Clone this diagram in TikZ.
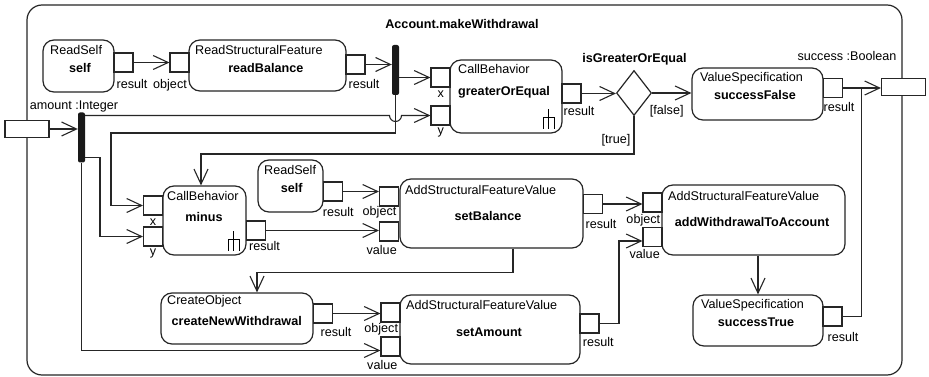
\documentclass[tikz,border=0pt]{standalone}
\usepackage{fontspec}
\setmainfont{Liberation Sans}
\usepackage{tikz}
\usetikzlibrary{shapes.geometric, arrows.meta}
\newcommand{\diagfont}{\fontsize{12.6pt}{14pt}\selectfont}
\tikzstyle{action}   = [rectangle, rounded corners=11pt, draw=black!85,
                         line width=1.2pt, fill=white, inner sep=0pt]
\tikzstyle{pinbox}   = [rectangle, draw=black!85, line width=1.1pt,
                         fill=white, minimum size=19pt, inner sep=0pt]
\tikzstyle{parambox} = [rectangle, draw=black!85, line width=1.1pt, fill=white,
                         minimum width=44pt, minimum height=17pt, inner sep=0pt]
\tikzstyle{forkbar}  = [rectangle, rounded corners=2pt, fill=black!90,
                         minimum width=7pt, minimum height=50pt, inner sep=0pt]
\tikzstyle{decision} = [diamond, draw=black!85, line width=1.2pt, fill=white,
                         minimum width=35pt, minimum height=45pt, inner sep=0pt]
\tikzstyle{kind}     = [anchor=base west, inner sep=0pt]
\tikzstyle{opname}   = [anchor=base, inner sep=0pt, font=\diagfont\bfseries]
\tikzstyle{pinlabel} = [anchor=base, inner sep=0pt]
\tikzstyle{arrow}    = [-{Straight Barb[length=15pt, width=14pt]},
                         line width=1.1pt, draw=black!85]
\tikzstyle{wire}     = [line width=1.1pt, draw=black!85]
\tikzset{rake/.pic={
    \draw[line width=1pt] (0,0) -- (0,-20) (-5.5,0) -- (-5.5,-11) -- (5.5,-11) -- (5.5,0);
}}

\begin{document}
\begin{tikzpicture}[x=1pt, y=-1pt, font=\diagfont]
  \useasboundingbox (0,0) rectangle (929,377);

  % activity frame
  \node[action, rounded corners=15pt, minimum width=875pt, minimum height=370pt] (frame) at (464.5,190) {};
  \node[opname] (title) at (462,29) {Account.makeWithdrawal};

  % actions
  \node[action, minimum width=71pt,  minimum height=52pt] (rs1) at (78.5,66) {};
  \node[action, minimum width=157pt, minimum height=51pt] (rb)  at (267.5,65.5) {};
  \node[action, minimum width=112pt, minimum height=73pt] (goe) at (506,96.5) {};
  \node[action, minimum width=131pt, minimum height=52pt] (sf)  at (757.5,94) {};
  \node[action, minimum width=83pt,  minimum height=69pt] (mi)  at (204.5,220.5) {};
  \node[action, minimum width=65pt,  minimum height=52pt] (rs2) at (290.5,186) {};
  \node[action, minimum width=183pt, minimum height=69pt] (sb)  at (491.5,213.5) {};
  \node[action, minimum width=183pt, minimum height=70pt] (awa) at (753.5,220) {};
  \node[action, minimum width=152pt, minimum height=51pt] (cnw) at (237,318.5) {};
  \node[action, minimum width=180pt, minimum height=69pt] (sa)  at (490,329.5) {};
  \node[action, minimum width=130pt, minimum height=51pt] (st)  at (758,320.5) {};

  % action texts
  \node[kind] (rs1-k) at (50,55) {ReadSelf};
  \node[opname] (rs1-n) at (80,72.5) {self};
  \node[kind] (rb-k) at (195,55) {ReadStructuralFeature};
  \node[opname] (rb-n) at (265.8,72.5) {readBalance};
  \node[kind] (goe-k) at (458,74) {CallBehavior};
  \node[opname] (goe-n) at (504,96) {greaterOrEqual};
  \node[kind] (sf-k) at (700,81.5) {ValueSpecification};
  \node[opname] (sf-n) at (755,100) {successFalse};
  \node[kind] (mi-k) at (167,200) {CallBehavior};
  \node[opname] (mi-n) at (204,221.5) {minus};
  \node[kind] (rs2-k) at (264,174.5) {ReadSelf};
  \node[opname] (rs2-n) at (291.7,192) {self};
  \node[kind] (sb-k) at (405,194) {AddStructuralFeatureValue};
  \node[opname] (sb-n) at (488,220) {setBalance};
  \node[kind] (awa-k) at (668,200) {AddStructuralFeatureValue};
  \node[opname] (awa-n) at (752,226.5) {addWithdrawalToAccount};
  \node[kind] (cnw-k) at (167,304.5) {CreateObject};
  \node[opname] (cnw-n) at (236.7,325) {createNewWithdrawal};
  \node[kind] (sa-k) at (406,309.5) {AddStructuralFeatureValue};
  \node[opname] (sa-n) at (489,336) {setAmount};
  \node[kind] (st-k) at (701,308) {ValueSpecification};
  \node[opname] (st-n) at (756,326.5) {successTrue};

  \pic at ([xshift=-14pt, yshift=5pt]goe.south east) {rake};
  \pic at ([xshift=-13pt, yshift=5pt]mi.south east) {rake};

  % pins
  \node[pinbox] (rs1-res) at (123.5,62.5) {};
  \node[pinbox] (rb-obj)  at (179.5,62.5) {};
  \node[pinbox] (rb-res)  at (355.5,64.5) {};
  \node[pinbox] (goe-x)   at (440.5,77.5) {};
  \node[pinbox] (goe-y)   at (440.5,115.5) {};
  \node[pinbox] (goe-res) at (571.5,93.5) {};
  \node[pinbox] (sf-res)  at (833,88) {};
  \node[pinbox] (mi-x)    at (153,205.5) {};
  \node[pinbox] (mi-y)    at (153,236.5) {};
  \node[pinbox] (mi-res)  at (256,230.5) {};
  \node[pinbox] (rs2-res) at (333,191.5) {};
  \node[pinbox] (sb-obj)  at (389,196.5) {};
  \node[pinbox] (sb-val)  at (389,231.5) {};
  \node[pinbox] (sb-res)  at (593,204) {};
  \node[pinbox] (awa-obj) at (652.5,202.5) {};
  \node[pinbox] (awa-val) at (652.5,237) {};
  \node[pinbox] (cnw-res) at (323,313.5) {};
  \node[pinbox] (sa-obj)  at (390.5,312.5) {};
  \node[pinbox] (sa-val)  at (390.5,346.5) {};
  \node[pinbox] (sa-res)  at (589.5,323.5) {};
  \node[pinbox] (st-res)  at (832.5,316.5) {};

  % pin labels
  \node[pinlabel] (l-rs1-res) at (132,89) {result};
  \node[pinlabel] (l-rb-obj)  at (170,89) {object};
  \node[pinlabel] (l-rb-res)  at (364,89) {result};
  \node[pinlabel] (l-goe-x)   at (440.7,98) {x};
  \node[pinlabel] (l-goe-y)   at (440.7,135) {y};
  \node[pinlabel] (l-goe-res) at (579,116) {result};
  \node[pinlabel] (l-sf-res)  at (839,111.5) {result};
  \node[pinlabel] (l-mi-x)    at (153,225.5) {x};
  \node[pinlabel] (l-mi-y)    at (153,255) {y};
  \node[pinlabel] (l-mi-res)  at (264.5,250) {result};
  \node[pinlabel] (l-rs2-res) at (338.3,216.5) {result};
  \node[pinlabel] (l-sb-obj)  at (379.5,215.5) {object};
  \node[pinlabel] (l-sb-val)  at (381.7,254) {value};
  \node[pinlabel] (l-sb-res)  at (601,228) {result};
  \node[pinlabel] (l-awa-obj) at (643.3,223) {object};
  \node[pinlabel] (l-awa-val) at (644.7,258.5) {value};
  \node[pinlabel] (l-cnw-res) at (336,336) {result};
  \node[pinlabel] (l-sa-obj)  at (381.2,332) {object};
  \node[pinlabel] (l-sa-val)  at (382.3,369) {value};
  \node[pinlabel] (l-sa-res)  at (598.3,346.5) {result};
  \node[pinlabel] (l-st-res)  at (843,341.5) {result};

  % parameters, forks, decision
  \node[parambox] (amount)  at (27,129) {};
  \node[pinlabel] (l-amount) at (74,109.5) {amount :Integer};
  \node[parambox] (success) at (903.5,87) {};
  \node[pinlabel] (l-success) at (847,61) {success :Boolean};
  \node[forkbar] (fork1) at (395.5,70) {};
  \node[forkbar] (fork2) at (81.5,137.5) {};
  \node[decision] (dec) at (634,93) {};
  \node[opname] (l-dec) at (634.5,63) {isGreaterOrEqual};
  \node[pinlabel] (l-false) at (666.7,114.5) {[false]};
  \node[pinlabel] (l-true)  at (616,143) {[true]};

  % bend points
  \coordinate (cross) at (fork1.south |- goe-y.west);
  \coordinate (k1) at (111,133);
  \coordinate (k2) at (100,157.5);
  \coordinate (k3) at (201,154);
  \coordinate (k4) at (257,272.5);
  \coordinate (k5) at (619,323.5);
  \coordinate (jn) at (861.5,88);

  % flows
  \draw[arrow] (rs1-res.east) -- (rs1-res.east -| rb-obj.west);
  \draw[arrow] (rb-res.east) -- (rb-res.east -| fork1.west);
  \draw[arrow] (fork1.east |- goe-x.west) -- (goe-x.west);
  \draw[arrow] (fork1.south) |- (k1) |- (mi-x.west);
  \draw[arrow] (amount.east) -- (amount.east -| fork2.west);
  \draw[arrow] (fork2.east |- goe-y.west) -- ([xshift=-6pt]cross)
      arc[start angle=180, end angle=0, radius=6] -- (goe-y.west);
  \draw[arrow] (fork2.east |- k2) -- (k2) |- (mi-y.west);
  \draw[arrow] (fork2.south) |- ([yshift=-4pt]sa-val.west);
  \draw[arrow] (goe-res.east) -- (goe-res.east -| dec.west);
  \draw[arrow] (dec.east) -- (dec.east -| sf.west);
  \draw[arrow] (dec.south) |- (k3) -- (k3 |- mi.north);
  \draw[arrow] (rs2-res.east) -- (rs2-res.east -| sb-obj.west);
  \draw[arrow] (mi-res.east) -- (mi-res.east -| sb-val.west);
  \draw[arrow] (sb-res.east) -- (sb-res.east -| awa-obj.west);
  \draw[arrow] ([xshift=21.5pt]sb.south) |- (k4) -- (k4 |- cnw.north);
  \draw[arrow] (cnw-res.east) -- (cnw-res.east -| sa-obj.west);
  \draw[arrow] (sa-res.east) -- (k5) |- ([yshift=-4pt]awa-val.west);
  \draw[arrow] (st.north |- awa.south) -- (st.north);
  \draw[arrow] (sf-res.east) -- (sf-res.east -| success.west);
  \draw[wire] (st-res.east) -| (jn);

\end{tikzpicture}
\end{document}
